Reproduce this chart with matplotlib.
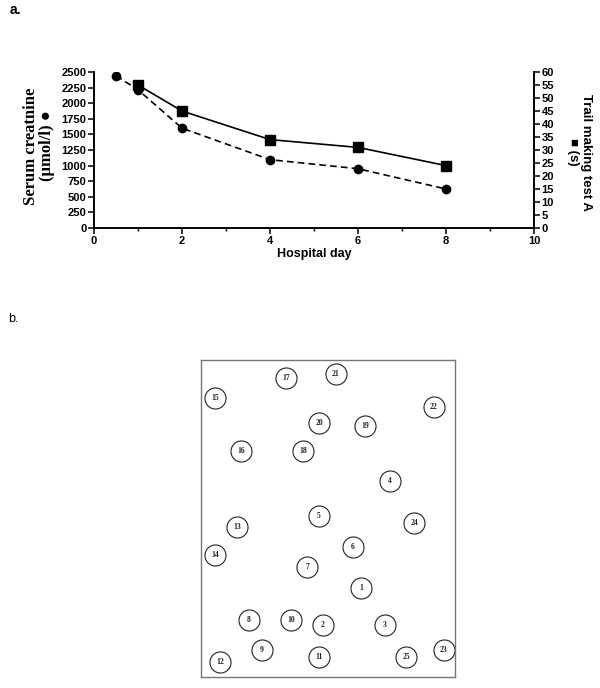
import matplotlib.pyplot as plt
import numpy as np
from matplotlib.ticker import MultipleLocator

# panel a: creatinine (circles, left axis) and trail making test A (squares, right axis)
creat_day = [0.5, 1, 2, 4, 6, 8]
creat_val = [2440, 2215, 1600, 1095, 950, 625]
tmt_day = [1, 2, 4, 6, 8]
tmt_val = [55, 45, 34, 31, 24]

# panel b: trail making test sheet, circle centres (px inside the box, y downward)
tmt_labels = [str(i) for i in range(1, 26)]
tmt_x = [160, 122, 184, 189, 118, 152, 106, 48, 61, 90, 118, 19, 36,
         14, 14, 40, 85, 102, 164, 118, 135, 233, 243, 213, 205]
tmt_y = [228, 265, 265, 121, 156, 187, 207, 260, 290, 260, 297, 302, 167,
         195, 38, 91, 18, 91, 66, 63, 14, 47, 290, 163, 297]

sans = ['Liberation Sans', 'DejaVu Sans']
serif = ['Liberation Serif', 'DejaVu Serif']

fig = plt.figure(figsize=(6, 6.88), dpi=100)

ax = fig.add_axes([94/600, 1-228/688, 440/600, 156/688])
ax2 = ax.twinx()

ax.plot(creat_day, creat_val, 'k--', marker='o', ms=6, lw=1.2, dashes=(4, 2.5))
ax2.plot(tmt_day, tmt_val, 'k-', marker='s', ms=6.5, lw=1.2)

ax.set_xlim(0, 10)
ax.set_ylim(0, 2500)
ax2.set_ylim(0, 60)
ax.xaxis.set_major_locator(MultipleLocator(2))
ax.xaxis.set_minor_locator(MultipleLocator(1))
ax.yaxis.set_major_locator(MultipleLocator(250))
ax2.yaxis.set_major_locator(MultipleLocator(5))

for a in (ax, ax2):
    a.spines['top'].set_visible(False)
    for s in a.spines.values():
        s.set_linewidth(1.2)
    a.tick_params(which='major', direction='out', length=4, width=1.1, pad=1.5)
    a.tick_params(which='minor', direction='out', length=2.5, width=1.0)
    for lab in a.get_xticklabels() + a.get_yticklabels():
        lab.set_family(sans)
        lab.set_fontweight('bold')
        lab.set_fontsize(8)

ax.set_xlabel('Hospital day', family=sans, fontweight='bold', fontsize=9, labelpad=2)
ax.set_ylabel('Serum creatnine\n(\u00b5mol/l) \u25cf', family=serif, fontweight='bold',
              fontsize=12, linespacing=1.0)
ax.yaxis.set_label_coords(-0.088, 0.526)
ax2.set_ylabel('Trail making test A\n\u25a0 (s)', family=sans, fontweight='bold',
               fontsize=9.5, rotation=270, linespacing=1.1, va='center')
ax2.yaxis.set_label_coords(1.104, 0.487)

fig.text(10/600, 1-14/688, 'a.', family=sans, fontweight='bold', fontsize=10)
fig.text(8/600, 1-322/688, 'b.', family=sans, fontsize=9)

# panel b
bx = fig.add_axes([201/600, 1-677/688, 254/600, 317/688])
bx.set_xlim(0, 254)
bx.set_ylim(317, 0)
bx.set_xticks([])
bx.set_yticks([])
for s in bx.spines.values():
    s.set_color('#777777')
    s.set_linewidth(1.0)
bx.scatter(tmt_x, tmt_y, s=230, facecolors='white', edgecolors='#222222', linewidths=0.8)
for lab, x, y in zip(tmt_labels, tmt_x, tmt_y):
    bx.text(x, y, lab, ha='center', va='center', family=serif, fontweight='bold',
            fontsize=5.5, color='#222222')

fig.savefig('out.png', dpi=100)
